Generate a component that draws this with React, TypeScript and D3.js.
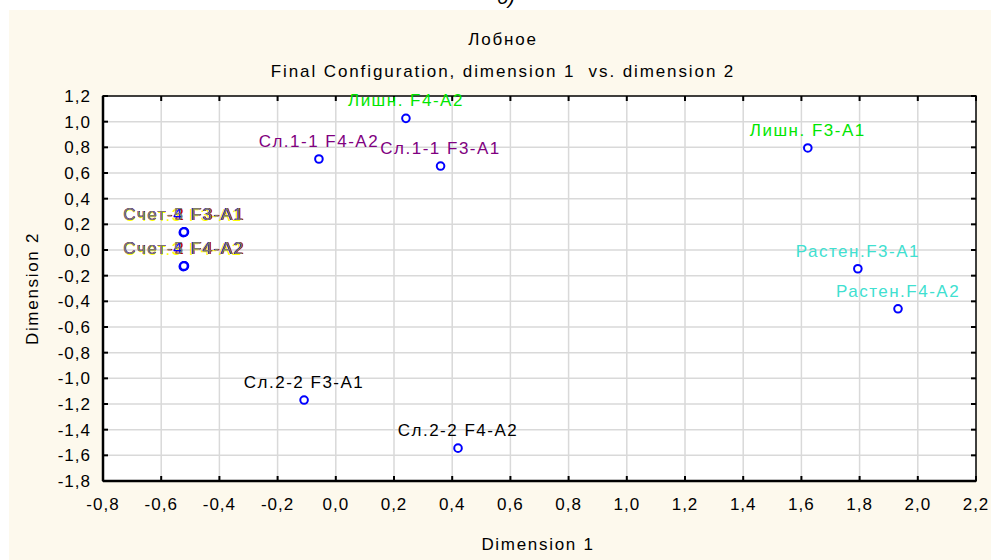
import React from 'react';
import * as d3 from 'd3';

// point labels, coordinates (dimension 1, dimension 2) and label colours
const labels = [
  'Лишн. F4-A2', 'Сл.1-1 F4-A2', 'Сл.1-1 F3-A1', 'Лишн. F3-A1',
  'Растен.F3-A1', 'Растен.F4-A2', 'Сл.2-2 F3-A1', 'Сл.2-2 F4-A2',
  'Счет-1 F3-A1', 'Счет-2 F3-A1', 'Счет.3 F3-A1', 'Счет 4 F3-A1', 'Счет-5 F3-A1',
  'Счет-1 F4-A2', 'Счет-2 F4-A2', 'Счет.3 F4-A2', 'Счет 4 F4-A2', 'Счет-5 F4-A2',
];
const dim1 = [
  0.241, -0.058, 0.360, 1.622, 1.794, 1.932, -0.109, 0.420,
  -0.521, -0.520, -0.524, -0.523, -0.522,
  -0.521, -0.520, -0.524, -0.523, -0.522,
];
const dim2 = [
  1.026, 0.709, 0.654, 0.795, -0.146, -0.458, -1.169, -1.544,
  0.140, 0.141, 0.135, 0.140, 0.140,
  -0.125, -0.124, -0.130, -0.125, -0.125,
];
const colors = [
  '#00e600', '#800080', '#800080', '#00e600', '#40e0d0', '#40e0d0', '#000000', '#000000',
  '#ff8000', '#c00000', '#ffff00', '#0000ff', '#7f7a6a',
  '#ff8000', '#c00000', '#ffff00', '#0000ff', '#7f7a6a',
];

const xTicks = [-0.8, -0.6, -0.4, -0.2, 0, 0.2, 0.4, 0.6, 0.8, 1.0, 1.2, 1.4, 1.6, 1.8, 2.0, 2.2];
const yTicks = [1.2, 1.0, 0.8, 0.6, 0.4, 0.2, 0, -0.2, -0.4, -0.6, -0.8, -1.0, -1.2, -1.4, -1.6, -1.8];

const W = 991, H = 560;
const left = 103, right = 976, top = 96, bottom = 481;
const font = '"Liberation Sans", Arial, sans-serif';

const fmt = (v: number) => d3.format('.1f')(v).replace('.', ',').replace('−', '-');

export default function App() {
  const x = d3.scaleLinear().domain([-0.8, 2.2]).range([left, right]);
  const y = d3.scaleLinear().domain([-1.8, 1.2]).range([bottom, top]);
  const pts = labels.map((l, i) => ({ l, x: dim1[i], y: dim2[i], c: colors[i] }));

  return (
    <svg width={W} height={H} style={{ position: 'absolute', left: 0, top: 0, fontFamily: font }}>
      <rect x={0} y={0} width={W} height={H} fill="#ffffff" />
      <text x={497} y={4} fontSize={20} fontStyle="italic" fill="#000">б)</text>
      <rect x={9} y={10} width={W - 9} height={H - 10} fill="#fdf9ed" />

      <text x={503} y={45} fontSize={17} textAnchor="middle" letterSpacing={1.8}>Лобное</text>
      <text x={503} y={77} fontSize={17} textAnchor="middle" letterSpacing={1.9} style={{ whiteSpace: 'pre' }}>
        {'Final Configuration, dimension 1  vs. dimension 2'}
      </text>

      <rect x={left} y={top} width={right - left} height={bottom - top} fill="#ffffff" />
      {xTicks.slice(1, -1).map(t => (
        <line key={'gx' + t} x1={x(t)} x2={x(t)} y1={top} y2={bottom} stroke="#d9d9d9" strokeWidth={1.5} />
      ))}
      {yTicks.slice(1, -1).map(t => (
        <line key={'gy' + t} x1={left} x2={right} y1={y(t)} y2={y(t)} stroke="#d9d9d9" strokeWidth={1.5} />
      ))}
      <rect x={left} y={top} width={right - left} height={bottom - top} fill="none" stroke="#000" strokeWidth={1.5} />
      <line x1={left} x2={left} y1={top} y2={bottom} stroke="#000" strokeWidth={2.5} />
      <line x1={left} x2={right} y1={bottom} y2={bottom} stroke="#000" strokeWidth={2.5} />
      {xTicks.map(t => (
        <g key={'tx' + t}>
          <line x1={x(t)} x2={x(t)} y1={bottom} y2={bottom - 5} stroke="#000" strokeWidth={2} />
          <line x1={x(t)} x2={x(t)} y1={top} y2={top + 5} stroke="#000" strokeWidth={2} />
          <text x={x(t)} y={510} fontSize={17} textAnchor="middle" letterSpacing={1}>{fmt(t)}</text>
        </g>
      ))}
      {yTicks.map(t => (
        <g key={'ty' + t}>
          <line x1={left} x2={left + 5} y1={y(t)} y2={y(t)} stroke="#000" strokeWidth={2} />
          <line x1={right} x2={right - 5} y1={y(t)} y2={y(t)} stroke="#000" strokeWidth={2} />
          <text x={91} y={y(t) + 6} fontSize={17} textAnchor="end" letterSpacing={1}>{fmt(t)}</text>
        </g>
      ))}

      <text x={538} y={550} fontSize={17} textAnchor="middle" letterSpacing={1.7}>Dimension 1</text>
      <text transform={`translate(38, ${(top + bottom) / 2}) rotate(-90)`} fontSize={17} textAnchor="middle" letterSpacing={1.7}>
        Dimension 2
      </text>

      {pts.map((p, i) => (
        <circle key={'c' + i} cx={x(p.x)} cy={y(p.y)} r={3.8} fill="#ffffff" stroke="#0000ff" strokeWidth={2} />
      ))}
      {pts.map((p, i) => (
        <text key={'l' + i} x={x(p.x)} y={y(p.y) - 12} fontSize={17} textAnchor="middle" letterSpacing={1.5} fill={p.c}>
          {p.l}
        </text>
      ))}
    </svg>
  );
}
